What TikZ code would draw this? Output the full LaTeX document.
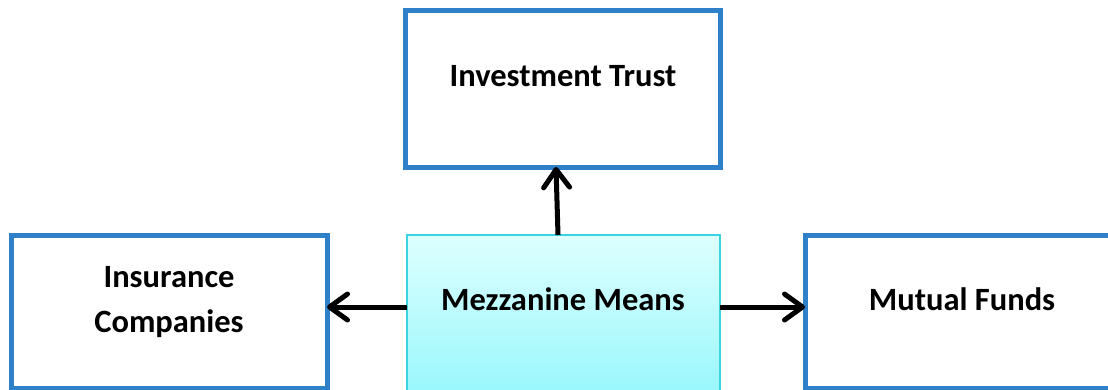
\documentclass[tikz,border=0pt]{standalone}
\usepackage{fontspec}
\setmainfont{Carlito}
\usetikzlibrary{arrows.meta}

\definecolor{boxblue}{RGB}{46,128,200}
\definecolor{mezztop}{RGB}{222,255,255}
\definecolor{mezzbot}{RGB}{150,247,252}
\definecolor{mezzline}{RGB}{60,212,224}

\tikzset{
  plainbox/.style={draw=boxblue, line width=5pt, fill=white, rectangle,
                   inner sep=0pt, outer sep=0pt},
  mezzbox/.style={draw=mezzline, line width=1.5pt, rectangle, inner sep=0pt,
                  outer sep=0pt, top color=mezztop, bottom color=mezzbot},
  label/.style={font=\fontsize{32.5}{45}\selectfont\bfseries, anchor=base,
                inner sep=0pt},
  link/.style={line width=5pt, black,
               -{Straight Barb[length=18pt,width=26pt,round]}}
}

\begin{document}
\begin{tikzpicture}[x=1pt,y=-1pt]
  \useasboundingbox (0,0) rectangle (1108,389);
  \clip (0,0) rectangle (1108,389);

  % boxes
  \node[plainbox, minimum width=315pt, minimum height=157pt] (invest) at (562.5,88.5) {};
  \node[plainbox, minimum width=316pt, minimum height=153pt] (insure) at (169,311.5) {};
  \node[plainbox, minimum width=315pt, minimum height=153pt] (mutual) at (805+157.5,311.5) {};
  \node[mezzbox, minimum width=313pt, minimum height=165pt] (mezz) at (563.5,317.5) {};

  % texts
  \node[label] (tinvest) at (563,86) {Investment Trust};
  \node[label] (tins1) at (169,287) {Insurance};
  \node[label] (tins2) at (169,332) {Companies};
  \node[label] (tmezz) at (563,310) {Mezzanine Means};
  \node[label] (tmutual) at (962,310) {Mutual Funds};

  % connectors
  \coordinate (midline) at (0,307);
  \draw[link] ([xshift=-5.5pt]mezz.north) -- ([xshift=-6.5pt]invest.south);
  \draw[link] (mezz.west |- midline) -- (insure.east |- midline);
  \draw[link] (mezz.east |- midline) -- (mutual.west |- midline);
\end{tikzpicture}
\end{document}
